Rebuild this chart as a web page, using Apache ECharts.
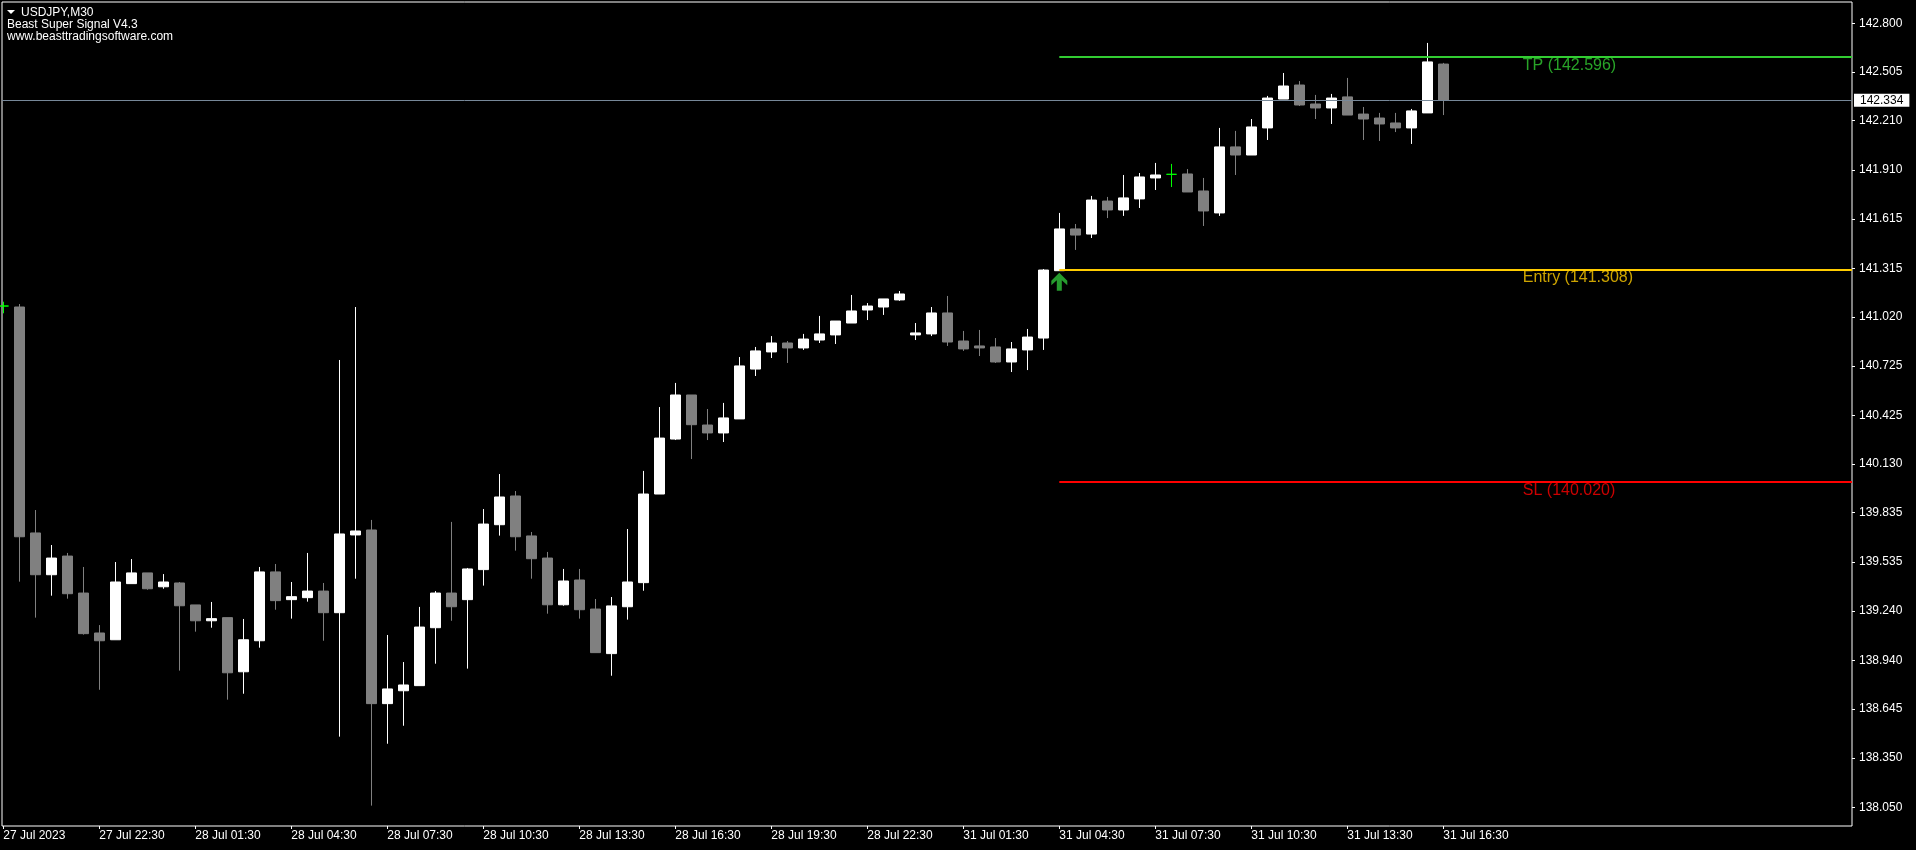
<!DOCTYPE html>
<html>
<head>
<meta charset="utf-8">
<script src="https://cdn.jsdelivr.net/npm/echarts@6/dist/echarts.min.js"></script>
<style>
html,body{margin:0;padding:0;background:#000;}
#chart{width:1916px;height:850px;}
</style>
</head>
<body>
<div id="chart"></div>
<script>
// ---------- DATA ----------
const symbolTitle = 'USDJPY,M30';
const indicatorTitle = 'Beast Super Signal V4.3';
const siteTitle = 'www.beasttradingsoftware.com';

// bar index of the first candle (partially visible at left edge)
const firstBar = -1;

const opens = [141.087,141.081,139.712,139.459,139.572,139.348,139.106,139.065,139.405,139.470,
139.386,139.409,139.276,139.180,139.199,138.871,139.059,139.476,139.308,139.320,
139.360,139.229,139.700,139.730,138.678,138.756,138.787,139.138,139.348,139.308,
139.490,139.762,139.936,139.694,139.560,139.277,139.427,139.251,138.981,139.265,
139.411,139.948,140.281,140.548,140.366,140.318,140.403,140.705,140.809,140.863,
140.833,140.881,140.912,140.984,141.063,141.081,141.124,140.912,140.918,141.045,
140.875,140.845,140.839,140.748,140.821,140.893,141.301,141.554,141.523,141.723,
141.669,141.736,141.863,141.885,141.887,141.784,141.651,142.051,142.002,142.166,
142.341,142.426,142.311,142.287,142.354,142.250,142.226,142.196,142.166,142.257,
142.553];
const closes = [141.087,139.689,139.459,139.560,139.344,139.102,139.059,139.415,139.470,139.374,
139.415,139.271,139.180,139.193,138.865,139.065,139.476,139.302,139.326,139.360,
139.229,139.706,139.724,138.678,138.767,138.791,139.142,139.348,139.265,139.494,
139.766,139.930,139.689,139.556,139.277,139.421,139.247,138.987,139.270,139.415,
139.948,140.287,140.548,140.368,140.318,140.409,140.724,140.815,140.863,140.833,
140.887,140.918,140.996,141.057,141.087,141.130,141.160,140.924,141.045,140.869,
140.827,140.833,140.748,140.827,140.899,141.305,141.554,141.517,141.729,141.669,
141.742,141.869,141.881,141.885,141.778,141.663,142.051,142.002,142.172,142.347,
142.420,142.305,142.287,142.347,142.244,142.220,142.190,142.166,142.269,142.566,
142.334];
const lows = [141.043,139.417,139.199,139.332,139.314,139.096,138.762,139.065,139.405,139.368,
139.374,138.878,139.114,139.138,138.702,138.738,139.017,139.247,139.193,139.296,
139.059,138.478,139.435,138.060,138.435,138.544,138.787,138.920,139.180,138.890,
139.393,139.696,139.605,139.435,139.223,139.271,139.193,138.987,138.847,139.187,
139.362,139.948,140.275,140.160,140.275,140.263,140.403,140.663,140.772,140.742,
140.821,140.863,140.857,140.984,141.002,141.033,141.118,140.881,140.905,140.845,
140.815,140.784,140.742,140.687,140.699,140.821,141.301,141.427,141.499,141.620,
141.633,141.681,141.790,141.808,141.778,141.572,141.633,141.881,142.002,142.093,
142.341,142.299,142.220,142.190,142.244,142.093,142.087,142.141,142.069,142.257,
142.244];
const highs = [141.113,141.099,139.851,139.639,139.591,139.506,139.154,139.536,139.554,139.470,
139.463,139.415,139.276,139.294,139.199,139.191,139.506,139.524,139.415,139.591,
139.409,140.760,141.081,139.791,139.094,138.930,139.264,139.360,139.779,139.500,
139.857,140.069,139.966,139.718,139.597,139.494,139.494,139.312,139.324,139.736,
140.088,140.475,140.621,140.548,140.463,140.500,140.778,140.839,140.905,140.875,
140.918,141.027,140.996,141.154,141.105,141.130,141.178,140.984,141.081,141.148,
140.936,140.942,140.893,140.869,140.948,141.311,141.651,141.584,141.754,141.748,
141.881,141.893,141.954,141.948,141.917,141.863,142.166,142.148,142.220,142.360,
142.499,142.450,142.366,142.372,142.469,142.293,142.257,142.257,142.281,142.681,
142.560];

// time axis ticks (bar index) and their labels
const timeTickIdx = [-1,5,11,17,23,29,35,41,47,53,59,65,71,77,83,89];
const timeTickLabels = ['27 Jul 2023','27 Jul 22:30','28 Jul 01:30','28 Jul 04:30','28 Jul 07:30',
'28 Jul 10:30','28 Jul 13:30','28 Jul 16:30','28 Jul 19:30','28 Jul 22:30','31 Jul 01:30',
'31 Jul 04:30','31 Jul 07:30','31 Jul 10:30','31 Jul 13:30','31 Jul 16:30'];

// price axis tick labels
const priceTicks = [142.800,142.505,142.210,141.910,141.615,141.315,141.020,140.725,140.425,
140.130,139.835,139.535,139.240,138.940,138.645,138.350,138.050];

// signal
const signalBar = 65;
const signalArrowPrice = 141.234;
const levelNames = ['TP','Entry','SL'];
const levelPrices = [142.596,141.308,140.020];
const bidPrice = closes[closes.length - 1];

// ---------- CHART ----------
const FONT = '"Liberation Sans", Arial, sans-serif';
const levelColors = ['#32CD32','#FFCC00','#FF0000'];
const xMin = -1.08125, xMax = 114.54375;
const labelBar = 94;

const candleData = opens.map((o, i) => {
  const item = { value: [firstBar + i, o, closes[i], lows[i], highs[i]] };
  if (o === closes[i]) item.itemStyle = { color: '#00FF00', borderColor: '#00FF00' };
  return item;
});

const levelLines = levelPrices.map((p, i) => [
  { coord: [signalBar, p], lineStyle: { color: levelColors[i], width: 2, type: 'solid' }, label: { show: false } },
  { coord: [xMax, p] }
]);

const chart = echarts.init(document.getElementById('chart'), null, { renderer: 'canvas' });
chart.setOption({
  backgroundColor: '#000',
  animation: false,
  grid: { left: 2, top: 2, right: 64, bottom: 24, show: true, borderColor: '#ffffff', borderWidth: 1, backgroundColor: 'transparent' },
  xAxis: {
    type: 'value', min: xMin, max: xMax,
    axisLine: { show: false, onZero: false }, splitLine: { show: false },
    axisTick: { show: true, customValues: timeTickIdx, length: 3, lineStyle: { color: '#fff' } },
    axisLabel: {
      show: true, customValues: timeTickIdx,
      formatter: v => timeTickLabels[timeTickIdx.indexOf(Math.round(v))] || '',
      color: '#fff', fontFamily: FONT, fontSize: 12, align: 'left', margin: 4
    }
  },
  yAxis: {
    type: 'value', position: 'right', min: 137.9366, max: 142.929,
    axisLine: { show: false, onZero: false }, splitLine: { show: false },
    axisTick: { show: true, customValues: priceTicks, length: 3, lineStyle: { color: '#fff' } },
    axisLabel: { show: true, customValues: priceTicks, formatter: v => v.toFixed(3), color: '#fff', fontFamily: FONT, fontSize: 12, margin: 7 }
  },
  graphic: [
    { type: 'polygon', shape: { points: [[7, 10], [15, 10], [11, 14]] }, style: { fill: '#fff' }, z: 100 },
    { type: 'text', x: 21, y: 12.5, style: { text: symbolTitle, fill: '#fff', font: '12px ' + FONT, verticalAlign: 'middle' }, z: 100 },
    { type: 'text', x: 7, y: 25, style: { text: indicatorTitle, fill: '#fff', font: '12px ' + FONT, verticalAlign: 'middle' }, z: 100 },
    { type: 'text', x: 7, y: 36.3, style: { text: siteTitle, fill: '#fff', font: '12px ' + FONT, verticalAlign: 'middle' }, z: 100 }
  ],
  series: [
    {
      type: 'candlestick', data: candleData, barWidth: 10, clip: true, silent: true,
      itemStyle: { color: '#ffffff', color0: '#808080', borderColor: '#ffffff', borderColor0: '#808080', borderWidth: 1 },
      markLine: {
        silent: true, symbol: ['none', 'none'], animation: false, precision: 3,
        data: [
          { yAxis: bidPrice, lineStyle: { color: '#778899', width: 1, type: 'solid' },
            label: { show: true, position: 'end', distance: 2, formatter: () => bidPrice.toFixed(3),
              color: '#000', backgroundColor: '#fff', padding: [1, 6, 0, 6], fontFamily: FONT, fontSize: 12 } }
        ].concat(levelLines)
      }
    },
    {
      type: 'scatter', silent: true, z: 6,
      data: [[signalBar, signalArrowPrice]],
      symbol: 'path://M8 0 L16 8 L16 12.5 L10.5 7.5 L10.5 18 L5.5 18 L5.5 7.5 L0 12.5 L0 8 Z',
      symbolSize: [16, 18], itemStyle: { color: '#2FC23A' }
    },
    {
      type: 'scatter', silent: true, z: 7, symbolSize: 1,
      itemStyle: { color: 'rgba(0,0,0,0)' },
      data: levelNames.map((n, i) => ({ value: [labelBar, levelPrices[i]], name: n + ' (' + levelPrices[i].toFixed(3) + ')', label: { color: levelColors[i] } })),
      label: { show: true, position: [0, 1], formatter: '{b}', fontFamily: FONT, fontSize: 16 }
    }
  ]
});
</script>
</body>
</html>
